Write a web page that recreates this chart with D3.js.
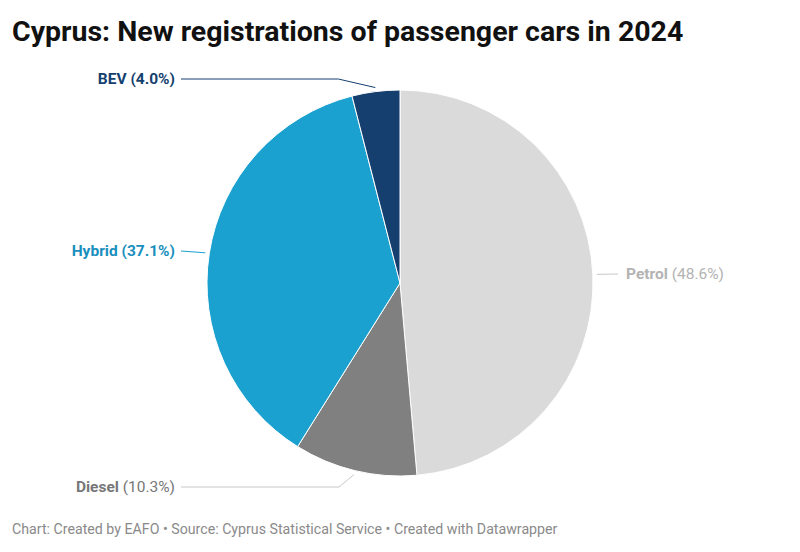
<!DOCTYPE html>
<html><head><meta charset="utf-8">
<script src="https://cdn.jsdelivr.net/npm/d3@7"></script>
<style>
body{margin:0;background:#fff;font-family:Roboto,"Noto Sans",sans-serif;}
</style></head>
<body><svg id="c" width="800" height="552"></svg>
<script>
const categories = ["Petrol","Diesel","Hybrid","BEV"];
const values = [48.6, 10.3, 37.1, 4.0];
const colors = ["#dadada","#808080","#1aa1cf","#153f6f"];
const labelColors = ["#b3b3b3","#777777","#1a8fbd","#153f6f"];
const pctBold = [false,false,true,true];
const sides = ["right","left","left","left"];

const svg = d3.select("#c");
svg.append("text").attr("x",12).attr("y",41).attr("font-size",28.5).attr("font-weight",700)
  .attr("fill","#111")
  .text("Cyprus: New registrations of passenger cars in 2024");
svg.append("text").attr("x",12).attr("y",534).attr("font-size",14.2).attr("fill","#8a8a8a")
  .text("Chart: Created by EAFO • Source: Cyprus Statistical Service • Created with Datawrapper");

const cx=400, cy=283, r=193;
const data = categories.map((c,i)=>({name:c,value:values[i],i}));
const pie = d3.pie().value(d=>d.value).sort(null);
const arcs = pie(data);
const arc = d3.arc().innerRadius(0).outerRadius(r);
const g = svg.append("g").attr("transform",`translate(${cx},${cy})`);
g.selectAll("path").data(arcs).join("path").attr("d",arc)
  .attr("fill",d=>colors[d.data.i]).attr("stroke","#fff").attr("stroke-width",1);

const leftX = 181, rightX = 618;
const labelY = {Petrol:274, Diesel:487, Hybrid:251, BEV:79};
const elbowDx = {Petrol:0, Diesel:15, Hybrid:0, BEV:37};
arcs.forEach(a=>{
  const i=a.data.i, m=(a.startAngle+a.endAngle)/2;
  const px=cx+(r+4)*Math.sin(m), py=cy-(r+4)*Math.cos(m);
  const ly=labelY[a.data.name];
  const ed=elbowDx[a.data.name];
  let pts;
  if(sides[i]==="right"){
    pts = ed ? [[px,py],[px+ed,ly],[rightX,ly]] : [[px,py],[rightX,ly]];
  } else {
    pts = ed ? [[px,py],[px-ed,ly],[leftX,ly]] : [[px,py],[leftX,ly]];
  }
  svg.append("path").attr("d",d3.line()(pts)).attr("fill","none")
    .attr("stroke", i>=2 ? colors[i] : "#c8c8c8").attr("stroke-width",1);
  const t = svg.append("text").attr("y",ly).attr("dy","0.35em").attr("font-size",15.5)
    .attr("fill",labelColors[i]);
  if(sides[i]==="right"){ t.attr("x",rightX+8).attr("text-anchor","start"); }
  else { t.attr("x",leftX-6).attr("text-anchor","end"); }
  t.append("tspan").attr("font-weight",700).text(a.data.name+" ");
  t.append("tspan").attr("font-weight",pctBold[i]?700:400).text("("+a.data.value.toFixed(1)+"%)");
});
</script></body></html>
